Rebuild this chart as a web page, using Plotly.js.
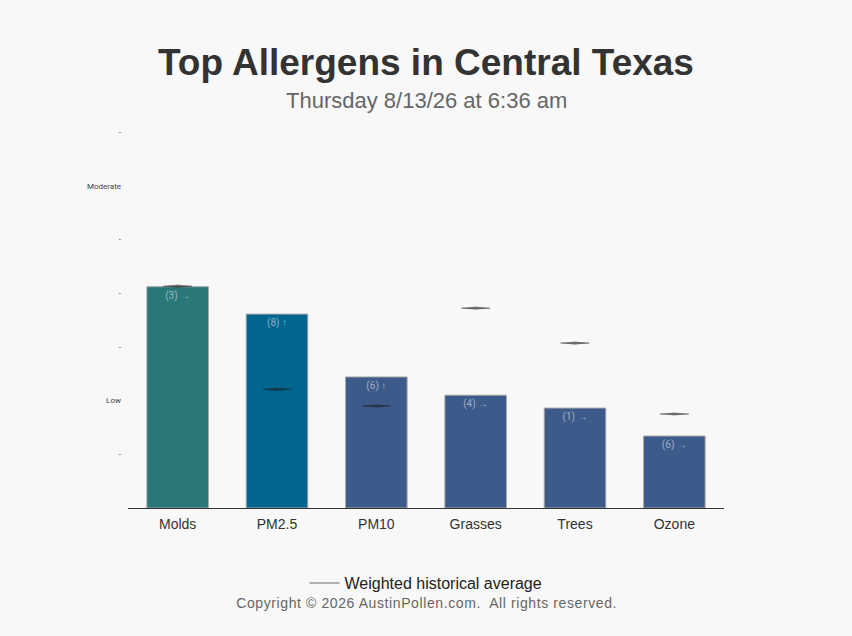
<!DOCTYPE html>
<html>
<head>
<meta charset="utf-8">
<script src="https://cdn.plot.ly/plotly-3.0.1.min.js"></script>
<style>html,body{margin:0;padding:0;background:#f8f8f8;}#chart{width:852px;height:636px;}</style>
</head>
<body>
<div id="chart"></div>
<script>
const categories = ["Molds", "PM2.5", "PM10", "Grasses", "Trees", "Ozone"];
const levels = [4.12, 3.61, 2.44, 2.10, 1.86, 1.34];
const barLabels = ["(3) →", "(8) ↑", "(6) ↑", "(4) →", "(1) →", "(6) →"];
const historicalAvg = [4.13, 2.21, 1.90, 3.72, 3.07, 1.75];
const barColors = ["#297776", "#01668f", "#3d5b8a", "#3d5b8a", "#3d5b8a", "#3d5b8a"];
const yTickVals = [1, 2, 3, 4, 5, 6, 7];
const yTickText = ["-", "Low", "-", "-", "-", "Moderate", "-"];

const idx = categories.map((c, i) => i);
const half = 0.145;   // half width of the average mark, in category units
const thick = 0.03;   // half thickness of the lens, in level units
const lineX = [], lineY = [], lensX = [], lensY = [];
historicalAvg.forEach((v, i) => {
  lineX.push(i - half, i + half, null); lineY.push(v, v, null);
  lensX.push(i - half, i, i + half, i, i - half, null);
  lensY.push(v, v + thick, v, v - thick, v, null);
});

const bars = {
  type: "bar", x: idx, y: levels, text: barLabels,
  textposition: "inside", insidetextanchor: "end", textangle: 0,
  textfont: {family: "Roboto, Liberation Sans, sans-serif", size: 10, color: "rgba(255,255,255,0.5)"},
  marker: {color: barColors, line: {color: "#a8a8a8", width: 1}},
  width: 0.62, showlegend: false, hoverinfo: "skip"
};
const avg = {
  type: "scatter", mode: "lines", x: lineX, y: lineY,
  name: "Weighted historical average",
  line: {color: "rgba(40,40,40,0.45)", width: 1.5},
  hoverinfo: "skip"
};
const lens = {
  type: "scatter", mode: "lines", x: lensX, y: lensY, fill: "toself",
  fillcolor: "rgba(20,20,20,0.45)", line: {width: 0, color: "rgba(0,0,0,0)"},
  showlegend: false, hoverinfo: "skip"
};

const layout = {
  width: 852, height: 636,
  paper_bgcolor: "#f8f8f8", plot_bgcolor: "#f8f8f8",
  margin: {l: 128, r: 128, t: 132, b: 128},
  font: {family: "Liberation Sans, Arial, sans-serif"},
  xaxis: {
    range: [-0.5, 5.5], tickvals: idx, ticktext: categories,
    tickfont: {size: 14, color: "#333"}, showgrid: false, zeroline: false,
    showline: true, linecolor: "#333", linewidth: 1, ticks: "", ticklabelstandoff: 3
  },
  yaxis: {
    range: [0, 7], tickvals: yTickVals, ticktext: yTickText,
    tickfont: {size: 8, color: "#444", family: "Roboto, sans-serif"},
    showgrid: false, zeroline: false, showline: false, ticks: "", ticklabelstandoff: 6
  },
  showlegend: true,
  legend: {orientation: "h", x: 0.5, xanchor: "center", y: -0.2, yanchor: "middle",
    font: {size: 16, color: "#222"}, bgcolor: "rgba(0,0,0,0)"},
  annotations: [
    {text: "<b>Top Allergens in Central Texas</b>", xref: "paper", yref: "paper", x: 0.5, y: 1.186,
     xanchor: "center", yanchor: "middle", showarrow: false, font: {size: 37, color: "#333"}},
    {text: "Thursday 8/13/26 at 6:36 am", xref: "paper", yref: "paper", x: 0.5, y: 1.085,
     xanchor: "center", yanchor: "middle", showarrow: false, font: {size: 22, color: "#666"}},
    {text: "Copyright © 2026 AustinPollen.com.  All rights reserved.", xref: "paper", yref: "paper", x: 0.5, y: -0.253,
     xanchor: "center", yanchor: "middle", showarrow: false, font: {size: 14, color: "#666"}}
  ]
};

Plotly.newPlot("chart", [bars, lens, avg], layout, {staticPlot: true}).then(() => {
  document.querySelectorAll(".annotation-text").forEach(t => {
    if (t.textContent.indexOf("Copyright") === 0) t.style.letterSpacing = "0.6px";
  });
});
</script>
</body>
</html>
